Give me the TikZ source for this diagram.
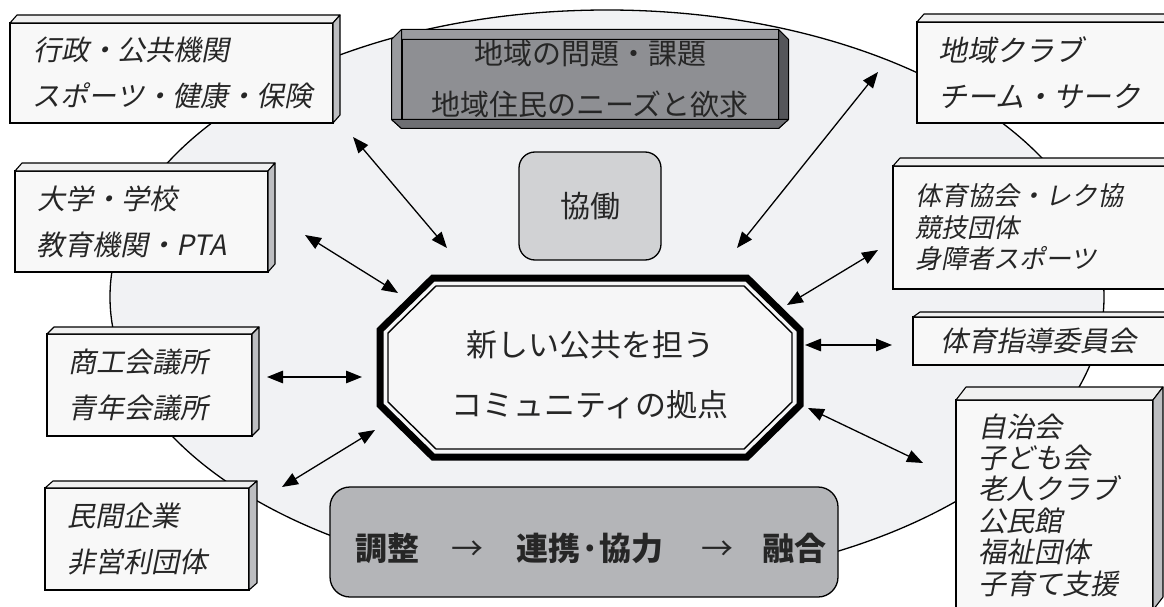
\documentclass[tikz,border=0pt]{standalone}
\usepackage{fontspec}
\newfontfamily\jp{Noto Sans CJK JP}
\newfontfamily\jpit[FakeSlant=0.2]{Noto Sans CJK JP}
\usetikzlibrary{arrows.meta,calc}
\definecolor{ellfill}{HTML}{F1F2F4}
\definecolor{boxfill}{HTML}{F8F8F8}
\definecolor{topfill}{HTML}{F0F0F0}
\definecolor{sidefill}{HTML}{BDBEC1}
\definecolor{txt}{HTML}{262626}
\definecolor{probface}{HTML}{8E8F93}
\definecolor{bevlight}{HTML}{9A9B9F}
\definecolor{bevdark}{HTML}{55565A}
\definecolor{bevmid}{HTML}{6E6F73}
\definecolor{kyofill}{HTML}{D1D2D4}
\definecolor{flowfill}{HTML}{B4B5B8}
\definecolor{hubfill}{HTML}{F6F6F7}
\newcommand\cubefaces[3]{%
  \draw[topface] (#1.north west) -- ++(#2,-#3) -- ($(#1.north east)+(#2,-#3)$) -- (#1.north east) -- cycle;
  \draw[sideface] (#1.north east) -- ++(#2,-#3) -- ($(#1.south east)+(#2,-#3)$) -- (#1.south east) -- cycle;}
\begin{document}
\begin{tikzpicture}[x=1pt,y=-1pt,
  cube/.style={draw=black,line width=1.3pt,fill=boxfill,anchor=north west,align=left,
    inner ysep=0pt,outer sep=0pt,text=txt},
  f28/.style={font=\jpit\fontsize{28}{46}\selectfont},
  topface/.style={draw=black,line width=1.1pt,fill=topfill,line join=round},
  sideface/.style={draw=black,line width=1.1pt,fill=sidefill,line join=round},
  link/.style={{Triangle[length=16pt,width=12.5pt]}-{Triangle[length=16pt,width=12.5pt]},line width=1.3pt},
  bevel/.style={draw=black,line width=1pt,line join=round},
]
\useasboundingbox (0,0) rectangle (1164,607);
\clip (0,0) rectangle (1164,607);
\fill[white] (0,0) rectangle (1164,607);
% big ellipse
\draw[line width=1.3pt,fill=ellfill] (607,297) ellipse [x radius=497, y radius=287];

% left boxes
\node[cube,f28,minimum width=323,minimum height=100,inner xsep=23,text width=277] (b1) at (10,23)
  {行政・公共機関\\スポーツ・健康・保険};
\cubefaces{b1}{7}{8}
\node[cube,f28,minimum width=253,minimum height=101,inner xsep=22,text width=209] (b2) at (15,171)
  {大学・学校\\教育機関・PTA};
\cubefaces{b2}{7}{8}
\node[cube,f28,minimum width=205,minimum height=102,inner xsep=21,text width=163] (b3) at (47,334)
  {商工会議所\\青年会議所};
\cubefaces{b3}{7}{7}
\node[cube,f28,minimum width=204,minimum height=102,inner xsep=22,text width=160] (b4) at (45,488)
  {民間企業\\非営利団体};
\cubefaces{b4}{8}{7}

% right boxes
\node[cube,font=\jpit\fontsize{29}{46}\selectfont,minimum width=280,minimum height=101,inner xsep=21,text width=238] (b5) at (917,22)
  {地域クラブ\\チーム・サーク};
\cubefaces{b5}{7}{8}
\node[cube,font=\jpit\fontsize{26}{31.5}\selectfont,minimum width=290,minimum height=123,inner xsep=22,text width=246] (b6) at (893,166)
  {体育協会・レク協\\競技団体\\身障者スポーツ};
\cubefaces{b6}{7}{8}
\node[cube,f28,minimum width=280,minimum height=48,inner xsep=27,text width=226] (b7) at (913,317)
  {体育指導委員会};
\cubefaces{b7}{7}{5}
\node[cube,font=\jpit\fontsize{28}{31.4}\selectfont,minimum width=197,minimum height=210,inner xsep=22,text width=153] (b8) at (956,400)
  {自治会\\子ども会\\老人クラブ\\公民館\\福祉団体\\子育て支援};
\cubefaces{b8}{10}{13}

% top problem box (bevelled)
\node[draw=black,line width=1pt,fill=probface,minimum width=376,minimum height=98,inner sep=0pt,
  text=txt,align=center,font=\jp\fontsize{29}{51}\selectfont] (prob) at (590,79) {地域の問題・課題\\地域住民のニーズと欲求};
\coordinate (po1) at ($(prob.north west)+(-10,10)$);
\coordinate (po2) at ($(prob.north east)+(10,10)$);
\coordinate (po3) at ($(prob.south east)+(10,-9)$);
\coordinate (po4) at ($(prob.south west)+(-10,-9)$);
\draw[bevel,fill=bevlight] (po1) -- (po2) -- (prob.north east) -- (prob.north west) -- cycle;
\draw[bevel,fill=bevlight] (po1) -- (prob.north west) -- (prob.south west) -- (po4) -- cycle;
\draw[bevel,fill=bevdark] (po2) -- (po3) -- (prob.south east) -- (prob.north east) -- cycle;
\draw[bevel,fill=bevmid] (po4) -- (prob.south west) -- (prob.south east) -- (po3) -- cycle;

% kyodo
\node[draw=black,line width=1.3pt,fill=kyofill,rounded corners=16,minimum width=142,minimum height=108,
  text=txt,font=\jp\fontsize{30}{36}\selectfont] (kyo) at (590,206) {協働};

% hub octagon
\draw[line width=7pt,fill=hubfill,line join=miter]
  (433,278) -- (747,278) -- (800,330) -- (800,405) -- (747,457) -- (433,457) -- (380,405) -- (380,330) -- cycle;
\draw[line width=1.4pt]
  (436,286) -- (744,286) -- (792,333) -- (792,402) -- (744,449) -- (436,449) -- (388,402) -- (388,333) -- cycle;
\node[text=txt,align=center,font=\jp\fontsize{31}{60}\selectfont] (hub) at (590,375)
  {新しい公共を担う\\コミュニティの拠点};

% flow box
\node[draw=black,line width=1.3pt,fill=flowfill,rounded corners=20,minimum width=508,minimum height=110,
  text=txt,font=\jp\bfseries\fontsize{32}{38}\selectfont,text height=40pt,text depth=4pt] (flow) at (584,542)
  {\hspace{14pt}調整\hspace{32pt}{\mdseries →}\hspace{33pt}連携·協力\hspace{38pt}{\mdseries →}\hspace{29pt}融合};

% arrow end points
\coordinate (a1s) at (353,137); \coordinate (a1e) at (447,248);
\coordinate (a2s) at (305,235); \coordinate (a2e) at (398,293);
\coordinate (a3s) at (267,377); \coordinate (a3e) at (362,377);
\coordinate (a4s) at (282,487); \coordinate (a4e) at (375,430);
\coordinate (a5s) at (878,72);  \coordinate (a5e) at (737,248);
\coordinate (a6s) at (878,250); \coordinate (a6e) at (787,305);
\coordinate (a7s) at (892,345); \coordinate (a7e) at (805,345);
\coordinate (a8s) at (923,463); \coordinate (a8e) at (808,408);
\foreach \i in {1,...,8} {\draw[link] (a\i s) -- (a\i e);}
\end{tikzpicture}
\end{document}
